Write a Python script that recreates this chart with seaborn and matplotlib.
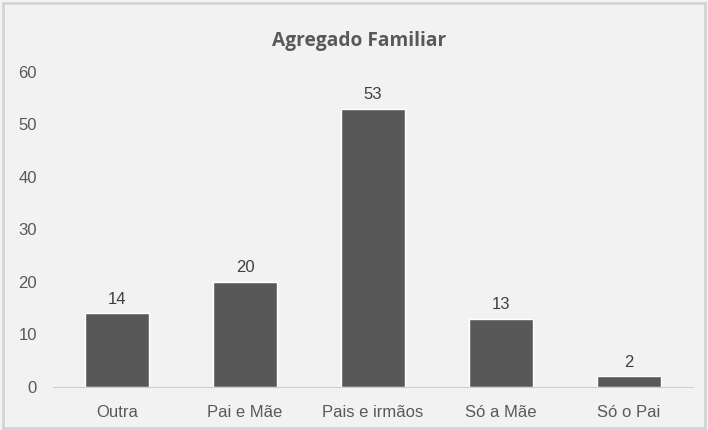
import matplotlib
matplotlib.use("Agg")
import matplotlib.pyplot as plt
import seaborn as sns
import pandas as pd

categories = ["Outra", "Pai e Mãe", "Pais e irmãos", "Só a Mãe", "Só o Pai"]
counts = [14, 20, 53, 13, 2]
title = "Agregado Familiar"

df = pd.DataFrame({"categoria": categories, "n": counts})

sns.set_style("white")
plt.rcParams["font.family"] = ["Liberation Sans", "DejaVu Sans"]

fig = plt.figure(figsize=(7.08, 4.30), dpi=100, facecolor="#f2f2f2")
ax = fig.add_axes([0.0749, 0.1, 0.904, 0.7326])
ax.set_facecolor("#f2f2f2")

sns.barplot(data=df, x="categoria", y="n", color="#585858", width=0.5,
            saturation=1, ax=ax)

for p, v in zip(ax.patches, counts):
    ax.text(p.get_x() + p.get_width() / 2, v + 1.3, str(v),
            ha="center", va="bottom", fontsize=12, color="#404040")

ax.set_ylim(0, 60)
ax.set_yticks(range(0, 61, 10))
ax.set_xlabel("")
ax.set_ylabel("")
for s in ["top", "right", "left"]:
    ax.spines[s].set_visible(False)
ax.spines["bottom"].set_color("#d0d0d0")
ax.tick_params(axis="both", length=0, labelsize=12, labelcolor="#595959")
ax.tick_params(axis="y", pad=11.5)
ax.tick_params(axis="x", pad=13)

fig.text(0.507, 0.905, title, ha="center", va="center", fontsize=13.8,
         fontweight="bold", color="#595959", family=["Open Sans", "DejaVu Sans"])

# moldura externa
fig.patches.append(plt.Rectangle((0.004, 0.004), 0.992, 0.99, transform=fig.transFigure,
                                 fill=False, edgecolor="#d4d4d4", linewidth=2))

fig.savefig("out.png", dpi=100, facecolor=fig.get_facecolor())
